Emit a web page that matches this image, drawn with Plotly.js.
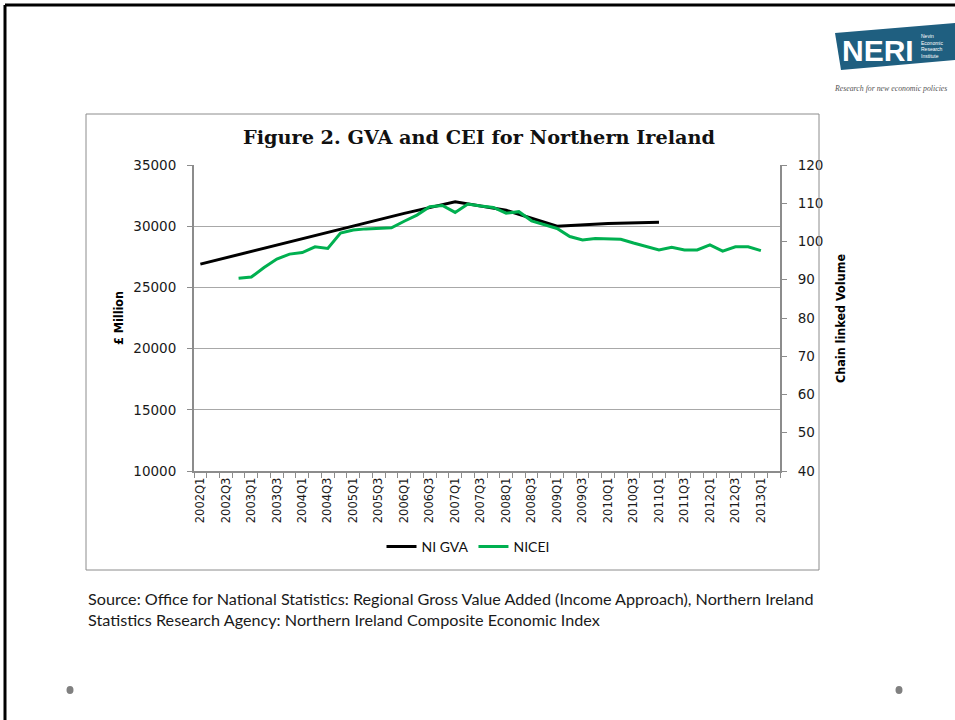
<!DOCTYPE html>
<html>
<head>
<meta charset="utf-8">
<script src="https://cdn.plot.ly/plotly-3.0.1.min.js"></script>
<style>
  html, body { margin: 0; padding: 0; background: #ffffff; }
  #chart { width: 955px; height: 720px; }
</style>
</head>
<body>
<div id="chart"></div>
<script>
// ---- Data ----
const quarters = [
  '2002Q1','2002Q2','2002Q3','2002Q4',
  '2003Q1','2003Q2','2003Q3','2003Q4',
  '2004Q1','2004Q2','2004Q3','2004Q4',
  '2005Q1','2005Q2','2005Q3','2005Q4',
  '2006Q1','2006Q2','2006Q3','2006Q4',
  '2007Q1','2007Q2','2007Q3','2007Q4',
  '2008Q1','2008Q2','2008Q3','2008Q4',
  '2009Q1','2009Q2','2009Q3','2009Q4',
  '2010Q1','2010Q2','2010Q3','2010Q4',
  '2011Q1','2011Q2','2011Q3','2011Q4',
  '2012Q1','2012Q2','2012Q3','2012Q4',
  '2013Q1','2013Q2'
];

// NI GVA (annual, plotted at Q1), £ Million
const gvaQuarters = ['2002Q1','2003Q1','2004Q1','2005Q1','2006Q1','2007Q1','2008Q1','2009Q1','2010Q1','2011Q1'];
const gvaValues   = [26900, 27950, 29000, 30050, 31050, 32000, 31300, 30000, 30230, 30320];

// NICEI (quarterly index, chain linked volume), 2002Q4 - 2013Q1
const niceiQuarters = [
  '2002Q4',
  '2003Q1','2003Q2','2003Q3','2003Q4',
  '2004Q1','2004Q2','2004Q3','2004Q4',
  '2005Q1','2005Q2','2005Q3','2005Q4',
  '2006Q1','2006Q2','2006Q3','2006Q4',
  '2007Q1','2007Q2','2007Q3','2007Q4',
  '2008Q1','2008Q2','2008Q3','2008Q4',
  '2009Q1','2009Q2','2009Q3','2009Q4',
  '2010Q1','2010Q2','2010Q3','2010Q4',
  '2011Q1','2011Q2','2011Q3','2011Q4',
  '2012Q1','2012Q2','2012Q3','2012Q4',
  '2013Q1'
];
const niceiValues = [
  90.4,
  90.7, 93.2, 95.4, 96.7,
  97.1, 98.6, 98.2, 102.2,
  103.0, 103.3, 103.4, 103.6,
  105.3, 106.9, 109.1, 109.4,
  107.6, 109.8, 109.3, 108.9,
  107.4, 107.8, 105.4, 104.3,
  103.4, 101.3, 100.4, 100.8,
  100.7, 100.6, 99.6, 98.7,
  97.8, 98.5, 97.8, 97.8,
  99.1, 97.5, 98.6, 98.6,
  97.6
];

const tickLabels = quarters.map((q, i) => (i % 2 === 0 ? q : ''));

// ---- Pixel helpers for decorations (plot area 194..780 x 165..471) ----
const PL = 194, PR = 780, PT = 165, PB = 471;
const px = x => (x - PL) / (PR - PL);
const py = y => (PB - y) / (PB - PT);

const traces = [
  {
    x: gvaQuarters, y: gvaValues, name: 'NI GVA',
    type: 'scatter', mode: 'lines',
    line: { color: '#000000', width: 3 },
    xaxis: 'x', yaxis: 'y'
  },
  {
    x: niceiQuarters, y: niceiValues, name: 'NICEI',
    type: 'scatter', mode: 'lines',
    line: { color: '#00b050', width: 3 },
    xaxis: 'x', yaxis: 'y2'
  }
];

const tickFont = { family: 'DejaVu Sans, Verdana, sans-serif', size: 13.5, color: '#1a1a1a' };
const gridC = '#a8a8a8';
const axisC = '#8c8c8c';

const layout = {
  width: 955, height: 720,
  paper_bgcolor: '#ffffff', plot_bgcolor: '#ffffff',
  margin: { l: PL, r: 955 - PR, t: PT, b: 720 - PB, pad: 0 },
  showlegend: true,
  title: {
    text: '<b>Figure 2. GVA and CEI for Northern Ireland</b>',
    font: { family: 'DejaVu Serif, Liberation Serif, serif', size: 19.3, color: '#111111' },
    x: 479 / 955, xanchor: 'center',
    y: 1 - 137 / 720, yanchor: 'middle'
  },
  xaxis: {
    type: 'category',
    categoryorder: 'array', categoryarray: quarters,
    range: [-0.5, quarters.length - 0.5],
    tickmode: 'array', tickvals: quarters, ticktext: tickLabels,
    tickson: 'boundaries',
    ticks: 'outside', ticklen: 5, tickwidth: 1, tickcolor: axisC,
    tickangle: -90,
    tickfont: { family: 'DejaVu Sans, Verdana, sans-serif', size: 11.5, color: '#1a1a1a' },
    showline: true, linecolor: axisC, linewidth: 2,
    showgrid: false, zeroline: false, fixedrange: true
  },
  yaxis: {
    range: [10000, 35000], dtick: 5000, tick0: 10000,
    tickformat: 'd',
    ticks: 'outside', ticklen: 5, tickwidth: 1, tickcolor: axisC,
    ticklabelstandoff: 8,
    tickfont: tickFont,
    showline: true, linecolor: axisC, linewidth: 2,
    showgrid: true, gridcolor: gridC, gridwidth: 1,
    zeroline: false, fixedrange: true
  },
  yaxis2: {
    overlaying: 'y', side: 'right',
    range: [40, 120], dtick: 10, tick0: 40,
    tickformat: 'd',
    ticks: 'outside', ticklen: 5, tickwidth: 1, tickcolor: axisC,
    ticklabelstandoff: 8,
    tickfont: tickFont,
    showline: true, linecolor: axisC, linewidth: 2,
    showgrid: false, zeroline: false, fixedrange: true
  },
  legend: {
    orientation: 'h',
    x: px(468), xanchor: 'center',
    y: py(547), yanchor: 'middle',
    font: { family: 'Lato, Noto Sans, sans-serif', size: 14, color: '#111111' },
    bgcolor: 'rgba(0,0,0,0)',
    itemwidth: 30, tracegroupgap: 0
  },
  shapes: [
    // slide border (top & left)
    { type: 'line', xref: 'paper', yref: 'paper', x0: px(5), x1: px(960), y0: py(5), y1: py(5), line: { color: '#000000', width: 3 } },
    { type: 'line', xref: 'paper', yref: 'paper', x0: px(5), x1: px(5), y0: py(5), y1: py(725), line: { color: '#000000', width: 3 } },
    // chart frame
    { type: 'rect', xref: 'paper', yref: 'paper', x0: px(86), x1: px(819), y0: py(114), y1: py(570), line: { color: '#8c8c8c', width: 1 }, fillcolor: 'rgba(0,0,0,0)' },
    // logo banner
    { type: 'path', xref: 'paper', yref: 'paper',
      path: 'M ' + px(835) + ',' + py(33) + ' L ' + px(955) + ',' + py(23) + ' L ' + px(955) + ',' + py(60) + ' L ' + px(841) + ',' + py(70) + ' Z',
      fillcolor: '#1f5f80', line: { width: 0 } },
    // slide dots
    { type: 'circle', xref: 'paper', yref: 'paper', x0: px(66.5), x1: px(73.5), y0: py(686), y1: py(694), fillcolor: '#808080', line: { width: 0 } },
    { type: 'circle', xref: 'paper', yref: 'paper', x0: px(895.5), x1: px(902.5), y0: py(686), y1: py(694), fillcolor: '#808080', line: { width: 0 } }
  ],
  annotations: [
    { text: '<b>£ Million</b>', xref: 'paper', yref: 'paper', x: px(118), y: py(318),
      xanchor: 'center', yanchor: 'middle', textangle: -90, showarrow: false,
      font: { family: 'Liberation Sans Narrow, DejaVu Sans Condensed, Arial Narrow, sans-serif', size: 12.5, color: '#000000' } },
    { text: '<b>Chain linked Volume</b>', xref: 'paper', yref: 'paper', x: px(840), y: py(319),
      xanchor: 'center', yanchor: 'middle', textangle: -90, showarrow: false,
      font: { family: 'Liberation Sans Narrow, DejaVu Sans Condensed, Arial Narrow, sans-serif', size: 12.5, color: '#000000' } },
    { text: 'Source: Office for National Statistics: Regional Gross Value Added (Income Approach), Northern Ireland',
      xref: 'paper', yref: 'paper', x: px(86), y: py(598), xanchor: 'left', yanchor: 'middle', showarrow: false,
      font: { family: 'Lato, Noto Sans, sans-serif', size: 16.2, color: '#1a1a1a' } },
    { text: 'Statistics Research Agency: Northern Ireland Composite Economic Index',
      xref: 'paper', yref: 'paper', x: px(86), y: py(619), xanchor: 'left', yanchor: 'middle', showarrow: false,
      font: { family: 'Lato, Noto Sans, sans-serif', size: 16.2, color: '#1a1a1a' } },
    // logo text
    { text: '<b>NERI</b>', xref: 'paper', yref: 'paper', x: px(878), y: py(50), xanchor: 'center', yanchor: 'middle', showarrow: false,
      font: { family: 'Liberation Sans, Arial, sans-serif', size: 30, color: '#ffffff' } },
    { text: 'Nevin<br>Economic<br>Research<br>Institute', xref: 'paper', yref: 'paper', x: px(919), y: py(46), xanchor: 'left', yanchor: 'middle', showarrow: false, align: 'left',
      font: { family: 'Liberation Sans, Arial, sans-serif', size: 5, color: '#ffffff' } },
    { text: '<i>Research for new economic policies</i>', xref: 'paper', yref: 'paper', x: px(832), y: py(88), xanchor: 'left', yanchor: 'middle', showarrow: false,
      font: { family: 'Liberation Serif, serif', size: 7.8, color: '#555555' } }
  ]
};

Plotly.newPlot('chart', traces, layout, { staticPlot: true, displayModeBar: false });
</script>
</body>
</html>
